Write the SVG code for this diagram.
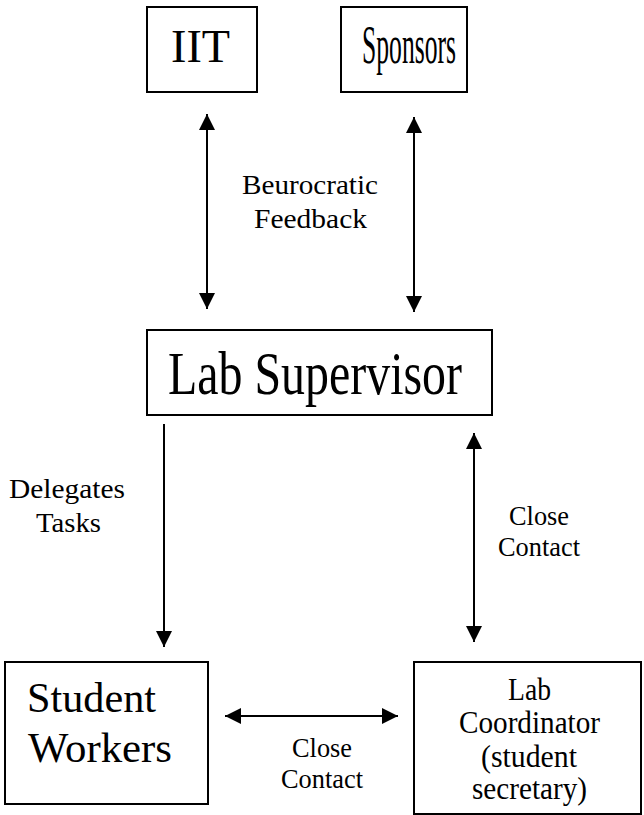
<svg xmlns="http://www.w3.org/2000/svg" width="644" height="815" viewBox="0 0 644 815">
<style>
.box{fill:#fff;stroke:#000;stroke-width:2}
.t{font-family:'Liberation Serif','Times New Roman','DejaVu Serif',serif;fill:#000}
.c{stroke:#000;stroke-width:2;fill:none}
</style>
<defs>
<marker id="ah" viewBox="0 0 16 16" refX="16" refY="8" markerWidth="16" markerHeight="16" markerUnits="userSpaceOnUse" orient="auto-start-reverse">
<path d="M0,0 L16,8 L0,16 Z" fill="#000"/>
</marker>
</defs>
<rect width="644" height="815" fill="#fff"/>
<g id="connectors">
<line class="c" x1="207" y1="114" x2="207" y2="309" marker-start="url(#ah)" marker-end="url(#ah)"/>
<line class="c" x1="414" y1="117" x2="414" y2="312" marker-start="url(#ah)" marker-end="url(#ah)"/>
<line class="c" x1="164" y1="424" x2="164" y2="647" marker-end="url(#ah)"/>
<line class="c" x1="474" y1="433" x2="474" y2="642" marker-start="url(#ah)" marker-end="url(#ah)"/>
<line class="c" x1="225" y1="716" x2="398" y2="716" marker-start="url(#ah)" marker-end="url(#ah)"/>
<text class="t" x="242" y="194" font-size="27" textLength="136" lengthAdjust="spacingAndGlyphs">Beurocratic</text>
<text class="t" x="254" y="228" font-size="27" textLength="113" lengthAdjust="spacingAndGlyphs">Feedback</text>
<text class="t" x="9" y="498" font-size="27" textLength="116" lengthAdjust="spacingAndGlyphs">Delegates</text>
<text class="t" x="36" y="532" font-size="27" textLength="65" lengthAdjust="spacingAndGlyphs">Tasks</text>
<text class="t" x="509" y="525" font-size="27" textLength="60" lengthAdjust="spacingAndGlyphs">Close</text>
<text class="t" x="498" y="556" font-size="27" textLength="82" lengthAdjust="spacingAndGlyphs">Contact</text>
<text class="t" x="292" y="757" font-size="27" textLength="60" lengthAdjust="spacingAndGlyphs">Close</text>
<text class="t" x="281" y="788" font-size="27" textLength="82" lengthAdjust="spacingAndGlyphs">Contact</text>
</g>
<g id="iit">
<rect class="box" x="147" y="7" width="110" height="85"/>
<text class="t" x="171" y="62" font-size="47" textLength="59" lengthAdjust="spacingAndGlyphs">IIT</text>
</g>
<g id="sponsors">
<rect class="box" x="341" y="7" width="126" height="85"/>
<text class="t" x="362" y="63" font-size="54" textLength="94" lengthAdjust="spacingAndGlyphs">Sponsors</text>
</g>
<g id="lab-supervisor">
<rect class="box" x="147" y="330" width="345" height="85"/>
<text class="t" x="168" y="394" font-size="62" textLength="294" lengthAdjust="spacingAndGlyphs">Lab Supervisor</text>
</g>
<g id="student-workers">
<rect class="box" x="5" y="662" width="203" height="142"/>
<text class="t" x="27" y="712" font-size="42" textLength="129" lengthAdjust="spacingAndGlyphs">Student</text>
<text class="t" x="28" y="762" font-size="42" textLength="144" lengthAdjust="spacingAndGlyphs">Workers</text>
</g>
<g id="lab-coordinator">
<rect class="box" x="414" y="662" width="227" height="152"/>
<text class="t" x="508" y="700" font-size="31" textLength="43" lengthAdjust="spacingAndGlyphs">Lab</text>
<text class="t" x="459" y="733" font-size="31" textLength="141" lengthAdjust="spacingAndGlyphs">Coordinator</text>
<text class="t" x="481" y="767" font-size="31" textLength="96" lengthAdjust="spacingAndGlyphs">(student</text>
<text class="t" x="472" y="799" font-size="31" textLength="115" lengthAdjust="spacingAndGlyphs">secretary)</text>
</g>
</svg>
